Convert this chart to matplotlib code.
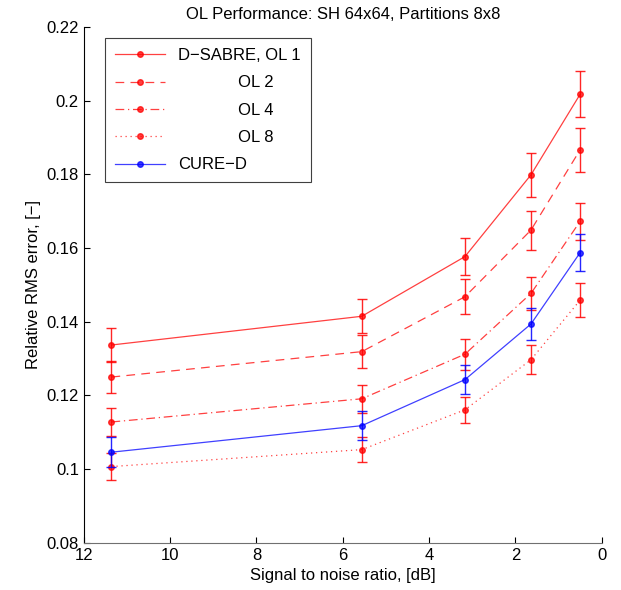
import numpy as np
import matplotlib
matplotlib.use('Agg')
import matplotlib.pyplot as plt

plt.rcParams['font.family'] = ['Liberation Sans', 'DejaVu Sans']

# signal to noise ratio, dB
snr = [11.36, 5.56, 3.17, 1.64, 0.5]

# relative rms error and error bar half-widths
ol1 = [0.1337, 0.1415, 0.1577, 0.1799, 0.2018]
ol1_err = [0.0045, 0.0046, 0.0051, 0.0059, 0.0063]
ol2 = [0.1250, 0.1319, 0.1468, 0.1649, 0.1867]
ol2_err = [0.0044, 0.0044, 0.0047, 0.0053, 0.0059]
ol4 = [0.1128, 0.1191, 0.1312, 0.1477, 0.1673]
ol4_err = [0.0038, 0.0038, 0.0042, 0.0045, 0.0050]
ol8 = [0.1007, 0.1053, 0.1161, 0.1297, 0.1459]
ol8_err = [0.0036, 0.0033, 0.0036, 0.0040, 0.0045]
cure = [0.1046, 0.1118, 0.1243, 0.1394, 0.1588]
cure_err = [0.0040, 0.0040, 0.0039, 0.0044, 0.0050]

labels = ['D\u2212SABRE, OL 1', '             OL 2', '             OL 4',
          '             OL 8', 'CURE\u2212D']

fig = plt.figure(figsize=(6.21, 5.9), dpi=100)
ax = fig.add_axes([0.135, 0.08, 0.834, 0.874])

series = [
    (ol1, ol1_err, 'red', '-'),
    (ol2, ol2_err, 'red', (0, (7, 5))),
    (ol4, ol4_err, 'red', (0, (7, 3, 1, 3))),
    (ol8, ol8_err, 'red', (0, (1, 3))),
    (cure, cure_err, 'blue', '-'),
]

handles = []
for (y, e, c, ls), lab in zip(series, labels):
    ax.errorbar(snr, y, yerr=e, fmt='none', ecolor=c, elinewidth=1.0,
                capsize=3.6, capthick=1.0, alpha=0.85)
    h, = ax.plot(snr, y, color=c, linestyle=ls, linewidth=0.9, alpha=0.75,
                 marker='o', markersize=4, markerfacecolor=c,
                 markeredgecolor=c, label=lab)
    handles.append(h)

ax.set_xlim(12, 0)
ax.set_ylim(0.08, 0.22)
ax.set_xticks(np.arange(0, 13, 2))
yt = np.arange(0.08, 0.2201, 0.02)
ax.set_yticks(yt)
ax.set_yticklabels(['%g' % round(v, 2) for v in yt])

ax.spines['top'].set_visible(False)
ax.spines['right'].set_visible(False)
ax.spines['bottom'].set_color('#707070')
ax.tick_params(direction='in', length=4, labelsize=12)

ax.set_title('OL Performance: SH 64x64, Partitions 8x8', fontsize=12, pad=6)
ax.set_xlabel('Signal to noise ratio, [dB]', fontsize=12)
ax.set_ylabel('Relative RMS error, [\u2212]', fontsize=12)

leg = ax.legend(handles=handles, loc='upper left', bbox_to_anchor=(0.025, 0.995),
                fontsize=12, fancybox=False, framealpha=1, edgecolor='#404040',
                handlelength=3.0, borderpad=0.6, labelspacing=0.74)
leg.get_frame().set_linewidth(0.8)

fig.savefig('out.png', dpi=100)
